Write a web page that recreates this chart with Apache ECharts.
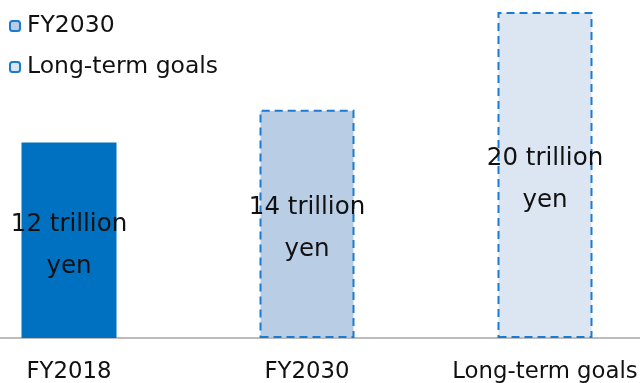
<!DOCTYPE html>
<html>
<head>
<meta charset="utf-8">
<script src="https://cdn.jsdelivr.net/npm/echarts@6/dist/echarts.min.js"></script>
<style>
  html, body { margin: 0; padding: 0; background: #fff; }
  #chart { width: 640px; height: 383px; }
</style>
</head>
<body>
<div id="chart"></div>
<script>
var categories = ['FY2018', 'FY2030', 'Long-term goals'];
var values = [12, 14, 20];  // trillion yen
var barLabels = ['12 trillion\nyen', '14 trillion\nyen', '20 trillion\nyen'];
var legendNames = ['FY2030', 'Long-term goals'];

var chart = echarts.init(document.getElementById('chart'));

var fills = ['#0070C0', '#B9CDE5', '#DCE6F2'];
var dashed = [false, true, true];

// one series per category so the legend can show the two goal bars
var series = categories.map(function (name, i) {
    var data = categories.map(function (c, j) { return j === i ? values[j] : '-'; });
    return {
        name: name,
        type: 'bar',
        barWidth: 95,
        barGap: '-100%',
        data: data,
        itemStyle: {
            color: fills[i],
            borderColor: dashed[i] ? '#1B7BD2' : fills[i],
            borderWidth: dashed[i] ? 2 : 0,
            borderType: [8, 5]
        },
        label: {
            show: true,
            position: 'inside',
            offset: [0, 5],
            formatter: function () { return barLabels[i]; },
            fontFamily: 'DejaVu Sans',
            fontSize: 24.5,
            lineHeight: 42,
            color: '#111'
        }
    };
});

var option = {
    animation: false,
    legend: {
        data: legendNames,
        orient: 'vertical',
        left: 4,
        top: 9,
        itemWidth: 10,
        itemHeight: 10,
        itemGap: 17,
        icon: 'roundRect',
        textStyle: {
            fontFamily: 'DejaVu Sans',
            fontSize: 23.5,
            color: '#111',
            padding: [0, 0, 0, 2]
        }
    },
    grid: { left: -50, right: -24, top: 12, bottom: 45, containLabel: false, outerBoundsMode: 'none' },
    xAxis: {
        type: 'category',
        data: categories,
        axisLine: { lineStyle: { color: '#A6A6A6', width: 1.5 } },
        axisTick: { show: false },
        axisLabel: {
            interval: 0,
            hideOverlap: false,
            margin: 23,
            fontFamily: 'DejaVu Sans',
            fontSize: 22.8,
            color: '#111'
        }
    },
    yAxis: {
        type: 'value',
        min: 0,
        max: 20,
        show: false
    },
    series: series
};

option && chart.setOption(option);
</script>
</body>
</html>
